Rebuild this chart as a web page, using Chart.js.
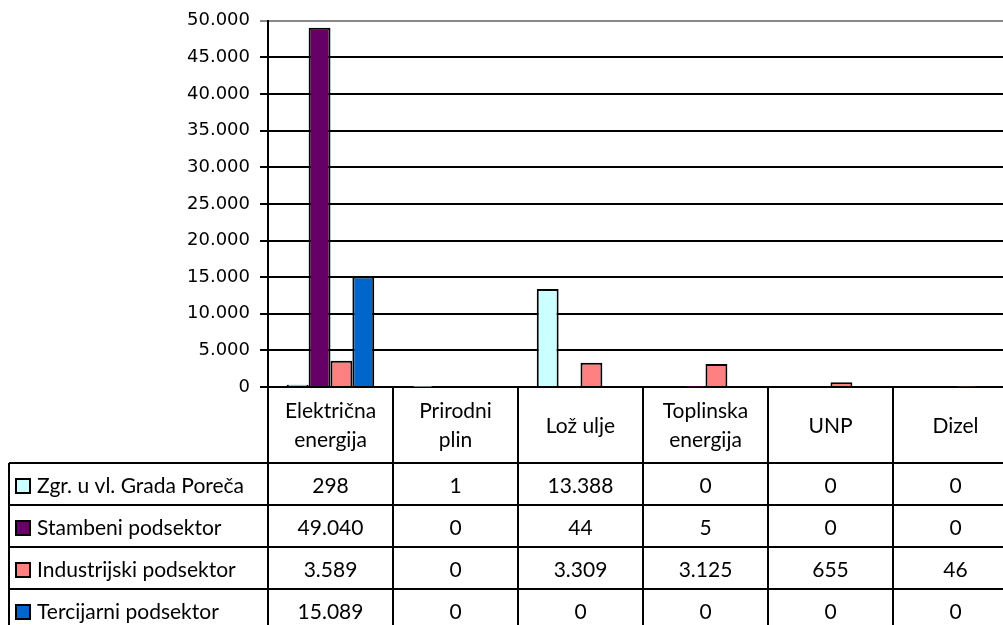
<!DOCTYPE html>
<html>
<head>
<meta charset="utf-8">
<script src="https://cdn.jsdelivr.net/npm/chart.js@4.4.1/dist/chart.umd.min.js"></script>
<style>
  html, body { margin: 0; padding: 0; background: #fff; overflow: hidden; }
  #wrap { position: relative; width: 1020px; height: 625px; }
</style>
</head>
<body>
<div id="wrap"><canvas id="energyChart"></canvas></div>
<script>
// kategorije energenata (prikazane u zaglavlju tablice)
const categories = [
  ['Električna', 'energija'],
  ['Prirodni', 'plin'],
  ['Lož ulje'],
  ['Toplinska', 'energija'],
  ['UNP'],
  ['Dizel']
];

const seriesNames = ['Zgr. u vl. Grada Poreča', 'Stambeni podsektor', 'Industrijski podsektor', 'Tercijarni podsektor'];
const seriesColors = ['#CCFFFF', '#660066', '#FF8080', '#0066CC'];

const zgrGrada = [298, 1, 13388, 0, 0, 0];
const stambeni = [49040, 0, 44, 5, 0, 0];
const industrijski = [3589, 0, 3309, 3125, 655, 46];
const tercijarni = [15089, 0, 0, 0, 0, 0];

const yTicks = [0, 5000, 10000, 15000, 20000, 25000, 30000, 35000, 40000, 45000, 50000];

const allSeries = [zgrGrada, stambeni, industrijski, tercijarni];

function fmt(v) {
  return String(v).replace(/\B(?=(\d{3})+(?!\d))/g, '.');
}

const tableFont = '21px Lato, "Open Sans", sans-serif';

// crta tablicu s podacima ispod grafikona
const dataTablePlugin = {
  id: 'dataTable',
  afterDraw(chart) {
    const ctx = chart.ctx;
    const x = chart.scales.x;
    const area = chart.chartArea;
    const n = categories.length;
    const colW = x.width / n;
    const top = area.bottom;
    const headBottom = top + 76;
    const rowH = 42;
    const tableLeft = 9;
    const tableBottom = headBottom + rowH * 4;

    ctx.save();
    ctx.strokeStyle = '#000';
    ctx.lineWidth = 2;

    // vertikalne linije stupaca
    for (let i = 0; i <= n; i++) {
      const px = Math.round(area.left + colW * i);
      ctx.beginPath();
      ctx.moveTo(px, top);
      ctx.lineTo(px, tableBottom);
      ctx.stroke();
    }
    // lijevi rub legende
    ctx.beginPath();
    ctx.moveTo(tableLeft, headBottom);
    ctx.lineTo(tableLeft, tableBottom);
    ctx.stroke();
    // horizontalne linije
    for (let r = 0; r <= 4; r++) {
      const py = Math.round(headBottom + rowH * r);
      ctx.beginPath();
      ctx.moveTo(tableLeft, py);
      ctx.lineTo(area.right, py);
      ctx.stroke();
    }

    ctx.fillStyle = '#000';
    ctx.font = tableFont;
    ctx.textAlign = 'center';
    ctx.textBaseline = 'middle';

    // zaglavlje
    categories.forEach((lines, i) => {
      const cx = x.getPixelForValue(i);
      const cy = (top + headBottom) / 2 + 1;
      const lh = 29;
      lines.forEach((t, k) => {
        ctx.fillText(t, cx, cy + (k - (lines.length - 1) / 2) * lh);
      });
    });

    // redovi s vrijednostima
    allSeries.forEach((vals, r) => {
      const cy = headBottom + rowH * r + rowH / 2 + 2;
      vals.forEach((v, i) => {
        ctx.fillText(fmt(v), x.getPixelForValue(i), cy);
      });
      // legenda
      ctx.fillStyle = seriesColors[r];
      ctx.fillRect(16, cy - 7, 14, 14);
      ctx.lineWidth = 2;
      ctx.strokeRect(16, cy - 7, 14, 14);
      ctx.fillStyle = '#000';
      ctx.textAlign = 'left';
      ctx.fillText(seriesNames[r], 37, cy);
      ctx.textAlign = 'center';
    });

    ctx.restore();
  }
};

const ctx = document.getElementById('energyChart').getContext('2d');
new Chart(ctx, {
  type: 'bar',
  data: {
    labels: categories,
    datasets: allSeries.map((vals, i) => ({
      label: seriesNames[i],
      data: vals,
      backgroundColor: seriesColors[i],
      borderColor: '#000',
      borderWidth: 2,
      borderSkipped: 'bottom',
      categoryPercentage: 0.7,
      barPercentage: 1
    }))
  },
  options: {
    responsive: true,
    maintainAspectRatio: false,
    animation: false,
    layout: { padding: { left: 0, top: 20, right: 2, bottom: 238 } },
    plugins: {
      legend: { display: false },
      tooltip: { enabled: false }
    },
    scales: {
      x: { display: false },
      y: {
        min: 0,
        max: 50000,
        afterBuildTicks(scale) {
          scale.ticks = yTicks.map(v => ({ value: v }));
        },
        afterFit(scale) { scale.width = 268; },
        border: { display: true, color: '#000', width: 2 },
        grid: {
          color: c => (c.tick && c.tick.value === 50000 ? '#888' : '#000'),
          lineWidth: 2,
          tickLength: 8
        },
        ticks: {
          color: '#000',
          padding: 10,
          font: { family: '"DejaVu Sans", Verdana, sans-serif', size: 18 },
          callback: v => fmt(v)
        }
      }
    }
  },
  plugins: [dataTablePlugin]
});
</script>
</body>
</html>
